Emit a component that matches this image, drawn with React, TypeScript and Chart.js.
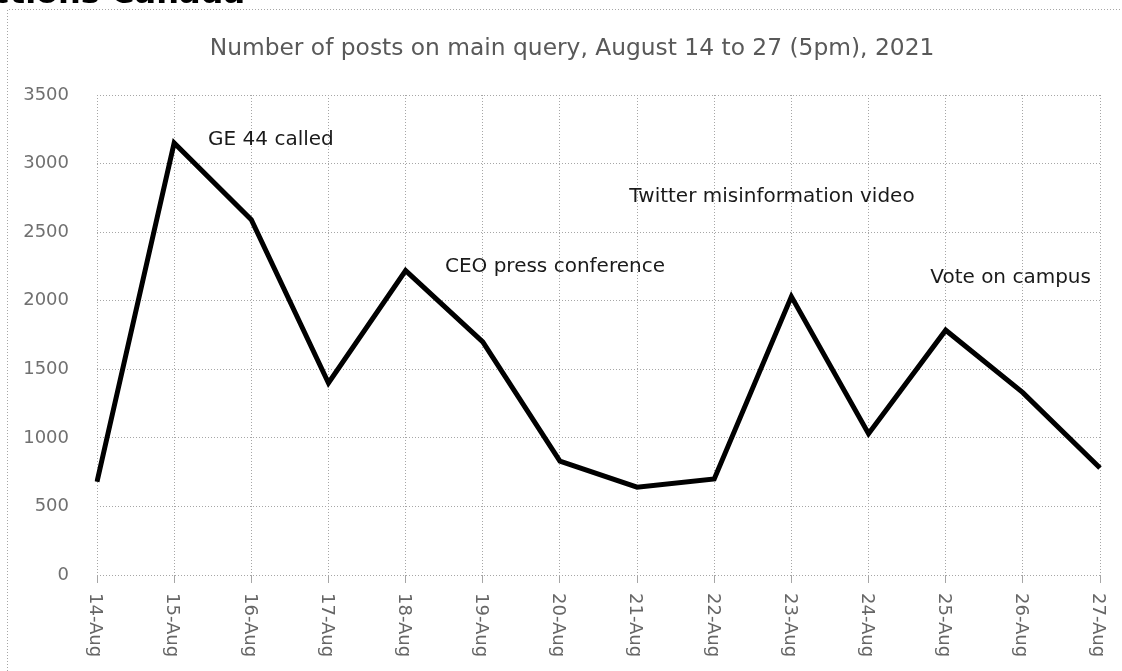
import { useEffect, useRef } from 'react';
import { Chart, registerables } from 'chart.js';

Chart.register(...registerables);

const categories = ['14-Aug', '15-Aug', '16-Aug', '17-Aug', '18-Aug', '19-Aug', '20-Aug', '21-Aug', '22-Aug', '23-Aug', '24-Aug', '25-Aug', '26-Aug', '27-Aug'];
const posts = [680, 3150, 2590, 1400, 2220, 1700, 830, 640, 700, 2030, 1030, 1785, 1330, 780];

const yMin = 0;
const yMax = 3500;
const yStep = 500;

const titleText = 'Number of posts on main query, August 14 to 27 (5pm), 2021';
const headerText = 'Elections Canada';

// annotations: label, category position (fractional index), value
const annotationLabels = ['GE 44 called', 'CEO press conference', 'Twitter misinformation video', 'Vote on campus'];
const annotationIndex = [1.44, 4.51, 6.9, 10.8];
const annotationValue = [3190, 2257, 2773, 2177];

const FONT = '"DejaVu Sans", sans-serif';

const decorPlugin = {
  id: 'decor',
  beforeDraw(chart: any) {
    const ctx = chart.ctx;
    ctx.save();
    ctx.strokeStyle = '#a6a6a6';
    ctx.lineWidth = 1;
    ctx.setLineDash([1, 2]);
    ctx.beginPath();
    ctx.moveTo(7.5, chart.height);
    ctx.lineTo(7.5, 9.5);
    ctx.lineTo(chart.width, 9.5);
    ctx.stroke();
    ctx.restore();
  },
  afterDraw(chart: any) {
    const ctx = chart.ctx;
    const xs = chart.scales.x;
    const ys = chart.scales.y;
    const area = chart.chartArea;

    // title
    ctx.save();
    ctx.fillStyle = '#595959';
    ctx.textAlign = 'center';
    ctx.textBaseline = 'alphabetic';
    ctx.font = `22px ${FONT}`;
    const w = ctx.measureText(titleText).width;
    const size = 22 * 725 / w;
    ctx.font = `${size.toFixed(2)}px ${FONT}`;
    ctx.fillText(titleText, 572, 55);
    ctx.restore();

    // x labels rotated clockwise
    ctx.save();
    ctx.fillStyle = '#666666';
    ctx.font = `18px ${FONT}`;
    ctx.textAlign = 'left';
    ctx.textBaseline = 'middle';
    categories.forEach((c, i) => {
      const x = xs.getPixelForValue(i);
      ctx.save();
      ctx.translate(x, area.bottom + 18);
      ctx.rotate(Math.PI / 2);
      ctx.fillText(c, 0, 2);
      ctx.restore();
    });
    ctx.restore();

    // annotations
    ctx.save();
    ctx.fillStyle = '#1a1a1a';
    ctx.font = `20px ${FONT}`;
    ctx.textAlign = 'left';
    ctx.textBaseline = 'alphabetic';
    annotationLabels.forEach((t, i) => {
      const x = xs.getPixelForValue(annotationIndex[i]);
      const y = ys.getPixelForValue(annotationValue[i]);
      ctx.fillText(t, x, y + 7);
    });
    ctx.restore();
  },
};

export default function App() {
  const ref = useRef<HTMLCanvasElement | null>(null);

  useEffect(() => {
    if (!ref.current) return;
    const chart = new Chart(ref.current, {
      type: 'line',
      data: {
        labels: categories,
        datasets: [
          {
            data: posts,
            borderColor: '#000000',
            borderWidth: 5,
            pointRadius: 0,
            tension: 0,
            fill: false,
          },
        ],
      },
      options: {
        responsive: false,
        animation: false,
        layout: { padding: { top: 95, right: 22, left: 0, bottom: 0 } },
        plugins: {
          legend: { display: false },
          title: { display: false },
          tooltip: { enabled: false },
        },
        scales: {
          x: {
            type: 'category',
            offset: false,
            border: { display: false, dash: [1, 2] },
            grid: {
              color: '#a6a6a6',
              lineWidth: 1,
              drawTicks: true,
              tickLength: 8,
              tickColor: '#a6a6a6',
            },
            ticks: { display: false },
            afterFit(scale: any) {
              scale.height = 96;
            },
          },
          y: {
            min: yMin,
            max: yMax,
            border: { display: false, dash: [1, 2] },
            grid: {
              color: '#a6a6a6',
              lineWidth: 1,
              drawTicks: false,
            },
            ticks: {
              stepSize: yStep,
              padding: 28,
              color: '#707070',
              font: { family: FONT, size: 18 },
              callback: (v: any) => String(v),
            },
            afterFit(scale: any) {
              scale.width = 97;
            },
          },
        },
      },
      plugins: [decorPlugin],
    });
    return () => chart.destroy();
  }, []);

  return (
    <div style={{ position: 'fixed', left: 0, top: 0, width: 1122, height: 671, overflow: 'hidden', background: '#ffffff' }}>
      <canvas ref={ref} width={1122} height={671} style={{ position: 'absolute', left: 0, top: 0 }} />
      <div
        style={{
          position: 'absolute',
          left: 0,
          top: -24,
          width: 245,
          textAlign: 'right',
          whiteSpace: 'nowrap',
          fontFamily: FONT,
          fontWeight: 'bold',
          fontSize: 32,
          lineHeight: '32px',
          color: '#000000',
          direction: 'rtl',
        }}
      >
        <span style={{ direction: 'ltr', unicodeBidi: 'embed' }}>{headerText}</span>
      </div>
    </div>
  );
}
